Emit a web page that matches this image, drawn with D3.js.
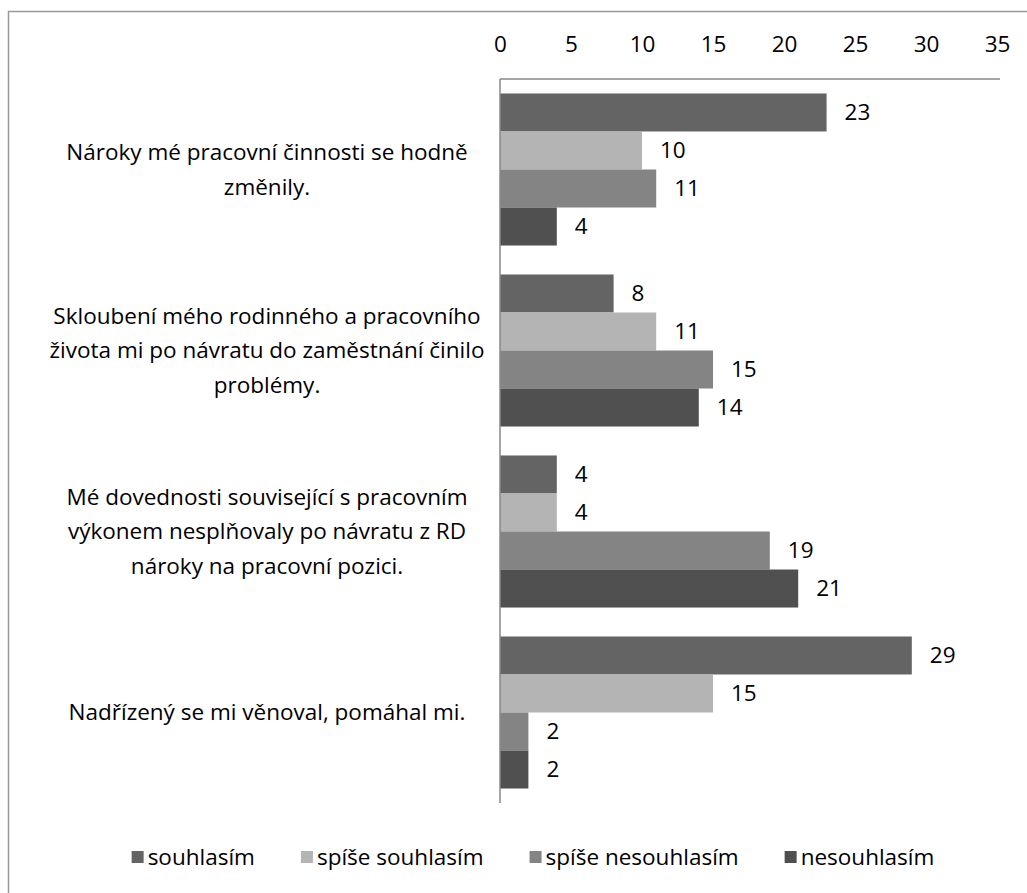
<!DOCTYPE html>
<html>
<head>
<meta charset="utf-8">
<script src="https://cdn.jsdelivr.net/npm/d3@7"></script>
<style>
  body { margin: 0; background: #fff; }
  text { font-family: "Open Sans", "Noto Sans", sans-serif; fill: #000; }
</style>
</head>
<body>
<div class="container"></div>
<script>
const categories = [
  'Nároky mé pracovní činnosti se hodně změnily.',
  'Skloubení mého rodinného a pracovního života mi po návratu do zaměstnání činilo problémy.',
  'Mé dovednosti související s pracovním výkonem nesplňovaly po návratu z RD nároky na pracovní pozici.',
  'Nadřízený se mi věnoval, pomáhal mi.'
];
const categoryLines = [
  ['Nároky mé pracovní činnosti se hodně', 'změnily.'],
  ['Skloubení mého rodinného a pracovního', 'života mi po návratu do zaměstnání činilo', 'problémy.'],
  ['Mé dovednosti související s pracovním', 'výkonem nesplňovaly po návratu z RD', 'nároky na pracovní pozici.'],
  ['Nadřízený se mi věnoval, pomáhal mi.']
];
const seriesNames = ['souhlasím', 'spíše souhlasím', 'spíše nesouhlasím', 'nesouhlasím'];
const souhlasim = [23, 8, 4, 29];
const spiseSouhlasim = [10, 11, 4, 15];
const spiseNesouhlasim = [11, 15, 19, 2];
const nesouhlasim = [4, 14, 21, 2];
const tickValues = [0, 5, 10, 15, 20, 25, 30, 35];
const colors = ['#646464', '#b4b4b4', '#848484', '#505050'];

const width = 1027;
const height = 893;
const fontSize = 22.5;

const svg = d3
  .select('.container')
  .append('svg')
  .attr('width', width)
  .attr('height', height);

// outer frame (runs off the right and bottom edge)
svg.append('rect')
  .attr('x', 8.5)
  .attr('y', 11.5)
  .attr('width', 1100)
  .attr('height', 1000)
  .attr('fill', 'none')
  .attr('stroke', '#999')
  .attr('stroke-width', 1.5);

const seriesValues = [souhlasim, spiseSouhlasim, spiseNesouhlasim, nesouhlasim];
const data = categories.map((c, i) => ({
  cat: c,
  lines: categoryLines[i],
  values: seriesNames.map((s, j) => ({ key: s, value: seriesValues[j][i], idx: j }))
}));

const x = d3.scaleLinear().domain([0, 35]).range([500, 997]);
const y = d3.scaleBand().domain(categories).range([79, 803]).paddingInner(0.16).paddingOuter(0.08);
const yInner = d3.scaleBand().domain(seriesNames).range([0, y.bandwidth()]);
const color = d3.scaleOrdinal().domain(seriesNames).range(colors);

// top axis
const xAxis = d3.axisTop(x).tickValues(tickValues).tickSize(0).tickPadding(27);
const gx = svg.append('g')
  .attr('transform', 'translate(0,79)')
  .call(xAxis);
gx.select('.domain').attr('stroke', '#888').attr('stroke-width', 1.5)
  .attr('d', `M${x(0)},0H1000`);
gx.selectAll('text').style('font-size', fontSize + 'px').attr('font-family', null);

// bars
const groups = svg.append('g')
  .selectAll('g')
  .data(data)
  .join('g')
  .attr('transform', (d) => `translate(0,${y(d.cat)})`);

groups.selectAll('rect')
  .data((d) => d.values)
  .join('rect')
  .attr('x', x(0))
  .attr('y', (d) => yInner(d.key))
  .attr('width', (d) => x(d.value) - x(0))
  .attr('height', yInner.bandwidth())
  .attr('fill', (d) => color(d.key));

groups.selectAll('text.val')
  .data((d) => d.values)
  .join('text')
  .attr('class', 'val')
  .attr('x', (d) => x(d.value) + 18)
  .attr('y', (d) => yInner(d.key) + yInner.bandwidth() / 2)
  .attr('dy', '0.35em')
  .style('font-size', fontSize + 'px')
  .text((d) => d.value);

// left axis line
svg.append('line')
  .attr('x1', x(0)).attr('x2', x(0))
  .attr('y1', 79).attr('y2', 803)
  .attr('stroke', '#888')
  .attr('stroke-width', 1.5);

// category labels
const lineH = 34.5;
const labels = svg.append('g')
  .selectAll('text')
  .data(data)
  .join('text')
  .attr('text-anchor', 'middle')
  .style('font-size', fontSize + 'px')
  .attr('transform', (d) => `translate(267,${y(d.cat) + y.bandwidth() / 2})`);

labels.selectAll('tspan')
  .data((d) => d.lines.map((l, i, arr) => ({ l, i, n: arr.length })))
  .join('tspan')
  .attr('x', 0)
  .attr('y', (d) => (d.i - (d.n - 1) / 2) * lineH)
  .attr('dy', '0.35em')
  .text((d) => d.l);

// legend
const legend = svg.append('g').attr('class', 'legend');
const items = legend.selectAll('g')
  .data(seriesNames)
  .join('g');
items.append('rect')
  .attr('width', 12)
  .attr('height', 12)
  .attr('y', -6)
  .attr('fill', (d) => color(d));
items.append('text')
  .attr('x', 16)
  .attr('dy', '0.35em')
  .style('font-size', fontSize + 'px')
  .text((d) => d);

let cursor = 0;
const gap = 46;
items.each(function () {
  const w = this.getBBox().width;
  d3.select(this).attr('transform', `translate(${cursor},857)`);
  cursor += w + gap;
});
const total = cursor - gap;
legend.attr('transform', `translate(${533 - total / 2},0)`);
</script>
</body>
</html>
